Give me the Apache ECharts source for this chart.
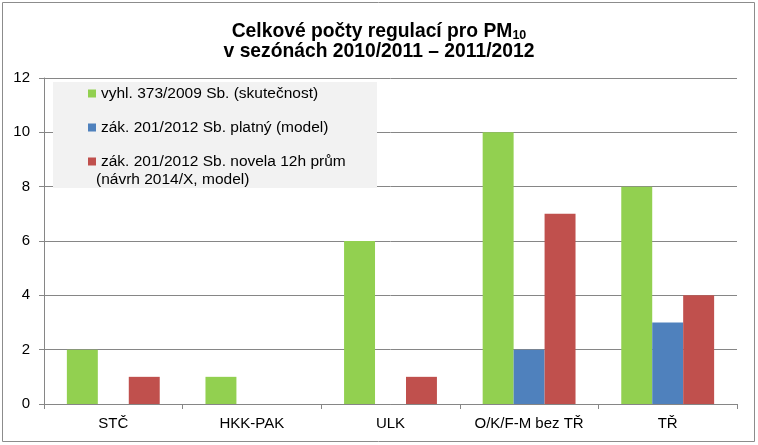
<!DOCTYPE html>
<html><head><meta charset="utf-8">
<script src="https://cdn.jsdelivr.net/npm/echarts@6/dist/echarts.min.js"></script>
<style>html,body{margin:0;padding:0;background:#fff}#c{width:758px;height:445px}</style>
</head><body><div id="c"></div>
<script>
const categories = ['STČ', 'HKK-PAK', 'ULK', 'O/K/F-M bez TŘ', 'TŘ'];
const seriesNames = ['vyhl. 373/2009 Sb. (skutečnost)', 'zák. 201/2012 Sb. platný (model)', 'zák. 201/2012 Sb. novela 12h prům'];
const legendExtraLine = '(návrh 2014/X, model)';
const greenValues = [2, 1, 6, 10, 8];
const blueValues = [0, 0, 0, 2, 3];
const redValues = [1, 0, 1, 7, 4];
const colors = ['#92D050', '#4F81BD', '#C0504D'];

const chart = echarts.init(document.getElementById('c'));
const font = 'Liberation Sans, Arial, sans-serif';
chart.setOption({
  animation: false,
  textStyle: { fontFamily: font },
  title: {
    text: '{t|Celkové počty regulací pro PM}{s|10}\n{t|v sezónách 2010/2011 – 2011/2012}',
    left: 'center', top: 17,
    textStyle: {
      rich: {
        t: { fontSize: 19.3, fontWeight: 'bold', color: '#000', fontFamily: font, lineHeight: 20 },
        s: { fontSize: 12.5, fontWeight: 'bold', color: '#000', fontFamily: font, lineHeight: 20, verticalAlign: 'bottom', padding: [9, 0, 0, 0] }
      }
    }
  },
  graphic: [
    { type: 'rect', shape: { x: 2.5, y: 2.5, width: 752, height: 439 }, style: { fill: 'none', stroke: '#8c8c8c', lineWidth: 1 }, z: -10 },
    { type: 'rect', shape: { x: 53, y: 82, width: 324, height: 106 }, style: { fill: '#f2f2f2' }, z: 5 },
    { type: 'text', left: 96, top: 172, style: { text: legendExtraLine, fontSize: 15.5, fontFamily: font, fill: '#000' }, z: 6 }
  ],
  legend: {
    orient: 'vertical', left: 83, top: 79, itemWidth: 8, itemHeight: 8, itemGap: 15,
    icon: 'rect', z: 6,
    textStyle: { fontSize: 15.5, color: '#000', lineHeight: 19, fontFamily: font },
    data: seriesNames
  },
  grid: { left: 44, right: 21, top: 78, bottom: 41, containLabel: false },
  xAxis: {
    type: 'category', data: categories,
    axisLine: { lineStyle: { color: '#868686' } },
    axisTick: { show: true, length: 5, lineStyle: { color: '#868686' } },
    axisLabel: { fontSize: 15, color: '#000', margin: 12, interval: 0, fontFamily: font }
  },
  yAxis: {
    type: 'value', min: 0, max: 12, interval: 2,
    axisLine: { show: true, lineStyle: { color: '#868686' } },
    axisTick: { show: true, inside: false, length: 5, lineStyle: { color: '#868686' } },
    axisLabel: { fontSize: 15, color: '#000', margin: 14, fontFamily: font },
    splitLine: { lineStyle: { color: '#868686', width: 1 } }
  },
  series: [
    { name: seriesNames[0], type: 'bar', data: greenValues, itemStyle: { color: colors[0] }, barGap: '0%', barCategoryGap: '33%' },
    { name: seriesNames[1], type: 'bar', data: blueValues, itemStyle: { color: colors[1] } },
    { name: seriesNames[2], type: 'bar', data: redValues, itemStyle: { color: colors[2] } }
  ]
});
</script></body></html>
